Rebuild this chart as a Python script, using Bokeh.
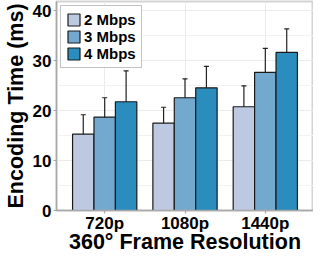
from bokeh.plotting import figure
from bokeh.models import (ColumnDataSource, Range1d, Whisker, TeeHead, Legend, LegendItem,
                          FixedTicker)
from bokeh.embed import file_html
from bokeh.resources import INLINE

resolutions = ["720p", "1080p", "1440p"]
rates = ["2 Mbps", "3 Mbps", "4 Mbps"]
colors = ["#bdc9e1", "#74a9cf", "#2b8cbe"]
means = {
    "2 Mbps": [15.3, 17.5, 20.8],
    "3 Mbps": [18.7, 22.6, 27.7],
    "4 Mbps": [21.8, 24.6, 31.7],
}
lowers = {
    "2 Mbps": [11.5, 14.6, 16.5],
    "3 Mbps": [14.8, 18.9, 23.0],
    "4 Mbps": [15.7, 20.1, 27.0],
}
uppers = {
    "2 Mbps": [19.2, 20.7, 25.0],
    "3 Mbps": [22.6, 26.4, 32.5],
    "4 Mbps": [28.0, 28.9, 36.4],
}
y_ticks = [0, 10, 20, 30, 40]
x_title = "360° Frame Resolution"
y_title = "Encoding Time (ms)"

FONT = "Liberation Sans"
p = figure(width=313, height=256, output_backend="svg", toolbar_location=None,
           x_range=Range1d(0.4, 3.6), y_range=Range1d(0, 41.9),
           min_border_left=0, min_border_right=0, min_border_top=1, min_border_bottom=0)
p.background_fill_color = "white"
p.border_fill_color = "white"
p.outline_line_color = "#d3d3d3"
p.outline_line_width = 2

bw = 0.8 / 3
offsets = [-bw, 0.0, bw]
renderers = []
for rate, col, off in zip(rates, colors, offsets):
    xs = [i + 1 + off for i in range(len(resolutions))]
    src = ColumnDataSource(dict(x=xs, top=means[rate], lo=lowers[rate], hi=uppers[rate]))
    r = p.vbar(x="x", top="top", width=bw, source=src, fill_color=col,
               line_color="#1a1a1a", line_width=1.2)
    renderers.append(r)
    w = Whisker(source=src, base="x", lower="lo", upper="hi", line_color="#222222", line_width=1.2,
                upper_head=TeeHead(size=5, line_color="#222222", line_width=1.2),
                lower_head=TeeHead(size=5, line_color="#222222", line_width=1.2))
    p.add_layout(w)

p.xaxis.ticker = FixedTicker(ticks=[1, 2, 3])
p.xaxis.major_label_overrides = {i + 1: r for i, r in enumerate(resolutions)}
p.yaxis.ticker = FixedTicker(ticks=y_ticks, minor_ticks=[5, 15, 25, 35])
p.ygrid.minor_grid_line_color = "#f2f2f2"
p.ygrid.grid_line_color = "#ebebeb"
p.xgrid.grid_line_color = "#ebebeb"

for ax in (p.xaxis, p.yaxis):
    ax.axis_line_color = "#a8a8a8"
    ax.axis_line_width = 1.5
    ax.major_tick_line_color = "#a8a8a8"
    ax.major_tick_line_width = 1.2
    ax.minor_tick_line_color = None
    ax.major_tick_out = 3
    ax.major_tick_in = 0
    ax.minor_tick_out = 0
    ax.minor_tick_in = 0
    ax.major_label_text_font = FONT
    ax.major_label_text_font_style = "bold"
    ax.major_label_text_font_size = "17px"
    ax.major_label_text_color = "black"
    ax.axis_label_text_font = FONT
    ax.axis_label_text_font_style = "bold"
    ax.axis_label_text_font_size = "21.5px"
    ax.axis_label_text_color = "black"
p.xaxis.axis_label = x_title
p.yaxis.axis_label = y_title
p.xaxis.major_label_standoff = 0
p.yaxis.major_label_standoff = 2
p.xaxis.axis_label_standoff = -6
p.yaxis.axis_label_standoff = 2

legend = Legend(items=[LegendItem(label=r_, renderers=[rr]) for r_, rr in zip(rates, renderers)],
                location="top_left")
legend.label_text_font = FONT
legend.label_text_font_style = "bold"
legend.label_text_font_size = "15px"
legend.label_text_color = "black"
legend.border_line_color = "#888888"
legend.border_line_width = 1.5
legend.glyph_width = 15
legend.glyph_height = 15
legend.label_height = 15
legend.spacing = 0
legend.padding = 5
legend.margin = 4
legend.label_standoff = 3
p.add_layout(legend)

open("out.html", "w").write(file_html(p, INLINE))
